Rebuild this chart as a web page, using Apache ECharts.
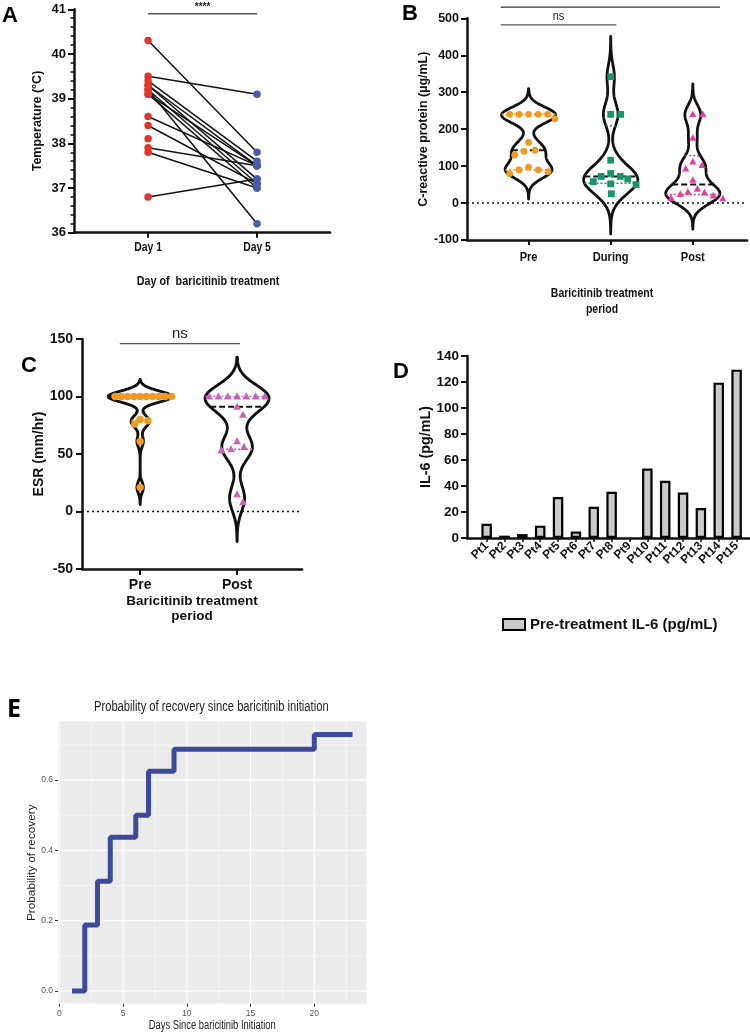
<!DOCTYPE html>
<html><head><meta charset="utf-8">
<script src="https://cdn.jsdelivr.net/npm/echarts@6/dist/echarts.min.js"></script>
<style>html,body{margin:0;padding:0;background:#fff}#c{width:750px;height:1035px}</style>
</head><body><div id="c"></div>
<script>
// ===== Panel A: temperature =====
const tempCategories = ['Day 1', 'Day 5'];
const tempDay1 = [40.3, 39.5, 39.4, 39.3, 39.3, 39.2, 39.2, 39.1, 39.1, 38.6, 38.4, 38.1, 37.9, 37.8, 36.8];
const tempDay5 = [37.8, 39.1, 37.6, 37.5, 37.2, 37.1, 36.2, 37.0, 37.5, 37.5, 37.1, null, 37.5, 37.0, 37.2];

// ===== Panel B: CRP =====
const crpGroups = ['Pre', 'During', 'Post'];
const crpPre = [240, 240, 240, 240, 240, 228, 164, 143, 140, 130, 97, 90, 90, 85, 80];
const crpDuring = [342, 240, 240, 116, 80, 72, 72, 65, 58, 52, 50, 25];
const crpPost = [240, 240, 176, 112, 102, 93, 62, 38, 30, 28, 24, 20, 13, 12];

// ===== Panel C: ESR =====
const esrGroups = ['Pre', 'Post'];
const esrPre = [100, 100, 100, 100, 100, 100, 100, 100, 100, 100, 80, 79, 76, 61, 21];
const esrPost = [100, 100, 100, 100, 100, 100, 100, 91, 84, 61, 56, 54, 53, 15, 8];

// ===== Panel D: IL-6 =====
const il6Patients = ['Pt1','Pt2','Pt3','Pt4','Pt5','Pt6','Pt7','Pt8','Pt9','Pt10','Pt11','Pt12','Pt13','Pt14','Pt15'];
const il6Values = [11, 1.8, 3, 9.5, 31.5, 5, 24, 35.5, null, 53.5, 44, 35, 23, 119.5, 129.5];

// ===== Panel E: Kaplan-Meier recovery =====
const kmDays = [1, 2, 3, 4, 6, 7, 9, 20, 23];
const kmProb = [0, 0.1875, 0.3125, 0.4375, 0.5, 0.625, 0.6875, 0.73, 0.73];
const kmYTicks = [0, 0.2, 0.4, 0.6];
const kmYMinor = [0.1, 0.3, 0.5, 0.7];
const kmXTicks = [0, 5, 10, 15, 20];
const kmXMinor = [2.5, 7.5, 12.5, 17.5, 22.5];

// ===== styles =====
const FONT = "'Liberation Sans', Arial, Helvetica, sans-serif";
const BLACK = '#111';
const RED = '#E3342B', BLUE = '#4B5AAA';
const ORANGE = '#F29A1F', GREEN = '#17956A', PINK_B = '#DD3F9E', PINK_C = '#C863B8';

function quantile(vals, p) {
  const s = [...vals].sort((a, b) => a - b), n = s.length;
  let pos = (n + 1) * p; if (pos < 1) pos = 1; if (pos > n) pos = n;
  const lo = Math.floor(pos), fr = pos - lo;
  return lo >= n ? s[n - 1] : s[lo - 1] + fr * (s[lo] - s[lo - 1]);
}
function kde(vals, h) {
  return y => vals.reduce((s, v) => { const z = (y - v) / h; return s + Math.exp(-0.5 * z * z); }, 0);
}
function shapeEl(kind, cx, cy, s, color) {
  if (kind === 'circle') return { type: 'circle', shape: { cx, cy, r: s }, style: { fill: color } };
  if (kind === 'rect') return { type: 'rect', shape: { x: cx - s, y: cy - s, width: 2 * s, height: 2 * s }, style: { fill: color } };
  return { type: 'polygon', shape: { points: [[cx, cy - s * 1.15], [cx + s * 1.05, cy + s * 0.8], [cx - s * 1.05, cy + s * 0.8]] }, style: { fill: color } };
}
function violinSeries(axisIdx, cfg) {
  return {
    type: 'custom', xAxisIndex: axisIdx, yAxisIndex: axisIdx, clip: false, z: 5,
    data: cfg.sets.map((_, i) => [i + 1]),
    renderItem(params, api) {
      const gi = params.dataIndex, xc = gi + 1;
      const vals = cfg.sets[gi], h = cfg.bw[gi], f = kde(vals, h);
      const lo = Math.min(...vals) - cfg.tail * h, hi = Math.max(...vals) + cfg.tail * h;
      const N = 200, prof = []; let maxD = 0;
      for (let k = 0; k <= N; k++) { const y = lo + (hi - lo) * k / N, d = f(y); prof.push([y, d]); if (d > maxD) maxD = d; }
      const hw = y => cfg.maxHalf * f(y) / maxD;
      const left = prof.map(([y, d]) => api.coord([xc - cfg.maxHalf * d / maxD, y]));
      const right = prof.slice().reverse().map(([y, d]) => api.coord([xc + cfg.maxHalf * d / maxD, y]));
      const ch = [];
      ch.push({ type: 'polygon', shape: { points: left.concat(right) }, style: { fill: 'none', stroke: BLACK, lineWidth: cfg.lw, lineJoin: 'round' } });
      [0.25, 0.75].forEach(p => {
        const y = quantile(vals, p), w = hw(y), a = api.coord([xc - w, y]), b = api.coord([xc + w, y]);
        ch.push({ type: 'line', shape: { x1: a[0], y1: a[1], x2: b[0], y2: b[1] }, style: { stroke: cfg.colors[gi], lineWidth: 1.6, lineDash: [2, 2] } });
      });
      const med = quantile(vals, 0.5), wm = hw(med), ma = api.coord([xc - wm, med]), mb = api.coord([xc + wm, med]);
      ch.push({ type: 'line', shape: { x1: ma[0], y1: ma[1], x2: mb[0], y2: mb[1] }, style: { stroke: BLACK, lineWidth: 2, lineDash: [6, 3] } });
      // beeswarm points
      const unitPx = api.size([1, 0])[0];
      const cx = api.coord([xc, 0])[0];
      const pts = vals.map(v => ({ v, y: api.coord([xc, v])[1] })).sort((a, b) => a.y - b.y);
      const placed = [];
      pts.forEach(p => {
        const k = pts.filter(q => Math.abs(q.y - p.y) < cfg.thr).length;
        const wpx = 2 * hw(p.v) * unitPx;
        const d = k > 1 ? Math.max(4, Math.min(cfg.dMax, 0.88 * wpx / (k - 1))) : cfg.dMax;
        const cands = [0];
        placed.forEach(q => { const dy = Math.abs(q.y - p.y); if (dy < d) { const dx = Math.sqrt(d * d - dy * dy); cands.push(q.x + dx, q.x - dx); } });
        cands.sort((a, b) => Math.abs(a) - Math.abs(b));
        const x = cands.find(c => placed.every(q => { const dy = q.y - p.y, dx = q.x - c; return dx * dx + dy * dy >= d * d - 0.05; }));
        placed.push({ x: x === undefined ? 0 : x, y: p.y });
      });
      placed.forEach(p => ch.push(shapeEl(cfg.shapes[gi], cx + p.x, p.y, cfg.ms, cfg.colors[gi])));
      return { type: 'group', children: ch };
    }
  };
}

const boldTxt = (size) => ({ fontFamily: FONT, fontWeight: 'bold', fontSize: size, color: BLACK });
function gpAxis(extra) {
  return Object.assign({
    axisLine: { onZero: false, lineStyle: { color: BLACK, width: 2.5 } },
    axisTick: { lineStyle: { color: BLACK, width: 2 }, length: 6 },
    splitLine: { show: false },
    nameLocation: 'middle'
  }, extra);
}

const option = {
  animation: false,
  backgroundColor: '#fff',
  grid: [
    { left: 74, top: 9.3, width: 256, height: 223.4 },
    { left: 467, top: 18.3, width: 280, height: 221.7 },
    { left: 82, top: 339, width: 220, height: 230 },
    { left: 467, top: 356, width: 283, height: 182 },
    { left: 58, top: 721.6, width: 308.6, height: 282.2, show: true, backgroundColor: '#EBEBEB', borderWidth: 0 }
  ],
  xAxis: [
    gpAxis({ gridIndex: 0, type: 'value', min: 0.32, max: 2.67,
      axisTick: { customValues: [1, 2], length: 5, lineStyle: { color: BLACK, width: 2 } },
      axisLabel: { show: false } }),
    gpAxis({ gridIndex: 1, type: 'value', min: 0.25, max: 3.66,
      axisTick: { customValues: [1, 2, 3], length: 5, lineStyle: { color: BLACK, width: 2 } },
      axisLabel: { show: false } }),
    gpAxis({ gridIndex: 2, type: 'value', min: 0.4, max: 2.67,
      axisTick: { customValues: [1, 2], length: 6, lineStyle: { color: BLACK, width: 2 } },
      axisLabel: Object.assign({ customValues: [1, 2], formatter: v => esrGroups[Math.round(v) - 1], margin: 9 }, boldTxt(14)),
      name: 'Baricitinib treatment\nperiod', nameGap: 25, nameTextStyle: Object.assign({ lineHeight: 15 }, boldTxt(13.5)) }),
    gpAxis({ gridIndex: 3, type: 'value', min: -0.1, max: 15.75,
      axisTick: { customValues: il6Patients.map((_, i) => i + 1), length: 4, lineStyle: { color: BLACK, width: 1.5 } },
      axisLabel: Object.assign({ customValues: il6Patients.map((_, i) => i + 1), formatter: v => il6Patients[Math.round(v) - 1],
        rotate: 45, margin: 6, showMinLabel: true, showMaxLabel: true, hideOverlap: false }, boldTxt(12)) }),
    { gridIndex: 4, type: 'value', min: -0.1, max: 24.1,
      axisLine: { show: false, onZero: false },
      axisTick: { customValues: kmXTicks, length: 3, lineStyle: { color: '#333', width: 1 } },
      axisLabel: { customValues: kmXTicks, fontFamily: FONT, fontSize: 8.5, color: '#555', margin: 5 },
      splitLine: { show: false } }
  ],
  yAxis: [
    gpAxis({ gridIndex: 0, type: 'value', min: 36, max: 41, interval: 1,
      minorTick: { show: true, splitNumber: 5, length: 3.5, lineStyle: { color: BLACK, width: 1.5 } },
      axisLabel: Object.assign({ margin: 8 }, boldTxt(13)),
      name: 'Temperature (°C)', nameGap: 30, nameTextStyle: boldTxt(12.5) }),
    gpAxis({ gridIndex: 1, type: 'value', min: -100, max: 500, interval: 100,
      axisLabel: Object.assign({ margin: 8 }, boldTxt(12.5)),
      name: 'C-reactive protein (µg/mL)', nameGap: 31, nameTextStyle: boldTxt(12.5) }),
    gpAxis({ gridIndex: 2, type: 'value', min: -50, max: 150, interval: 50,
      axisLabel: Object.assign({ margin: 9 }, boldTxt(14)),
      name: 'ESR (mm/hr)', nameGap: 30, nameTextStyle: boldTxt(14) }),
    gpAxis({ gridIndex: 3, type: 'value', min: 0, max: 140, interval: 20,
      axisLabel: Object.assign({ margin: 8 }, boldTxt(13.5)),
      name: 'IL-6 (pg/mL)', nameGap: 32, nameTextStyle: boldTxt(14.3) }),
    { gridIndex: 4, type: 'value', min: -0.0365, max: 0.7665,
      axisLine: { show: false, onZero: false },
      axisTick: { customValues: kmYTicks, length: 3, lineStyle: { color: '#333', width: 1 } },
      axisLabel: { customValues: kmYTicks, formatter: v => v.toFixed(1), fontFamily: FONT, fontSize: 8.5, color: '#555', margin: 5 },
      splitLine: { show: false },
      name: 'Probability of recovery', nameLocation: 'middle', nameGap: 16,
      nameTextStyle: { fontFamily: FONT, fontSize: 11.8, color: '#222' } }
  ],
  legend: {
    data: ['Pre-treatment IL-6 (pg/mL)'], left: 497, top: 612, icon: 'rect',
    itemWidth: 22, itemHeight: 11, itemGap: 8,
    itemStyle: { color: '#CACACA', borderColor: '#000', borderWidth: 2 },
    textStyle: boldTxt(15)
  },
  series: [
    // A: connecting lines
    { type: 'custom', name: 'pairs', xAxisIndex: 0, yAxisIndex: 0, z: 3,
      data: tempDay1.map((_, i) => [i]),
      renderItem(params, api) {
        const i = params.dataIndex; if (tempDay5[i] == null) return null;
        const a = api.coord([1, tempDay1[i]]), b = api.coord([2, tempDay5[i]]);
        return { type: 'line', shape: { x1: a[0], y1: a[1], x2: b[0], y2: b[1] }, style: { stroke: BLACK, lineWidth: 1.5 } };
      } },
    { type: 'scatter', name: 'Day 1', xAxisIndex: 0, yAxisIndex: 0, z: 4, symbolSize: 7.5,
      itemStyle: { color: RED, opacity: 1 }, data: tempDay1.map(v => [1, v]) },
    { type: 'scatter', name: 'Day 5', xAxisIndex: 0, yAxisIndex: 0, z: 4, symbolSize: 7.5,
      itemStyle: { color: BLUE, opacity: 1 }, data: tempDay5.filter(v => v != null).map(v => [2, v]) },
    // B zero line
    { type: 'line', name: 'zeroB', xAxisIndex: 1, yAxisIndex: 1, symbol: 'none', z: 2,
      lineStyle: { color: BLACK, width: 1.5, type: [2, 3] }, data: [[0.25, 0], [3.66, 0]] },
    violinSeries(1, { sets: [crpPre, crpDuring, crpPost], bw: [21, 33, 25], tail: 3.3, maxHalf: 0.33, lw: 2.8,
      colors: [ORANGE, GREEN, PINK_B], shapes: ['circle', 'rect', 'triangle'], ms: 3.4, dMax: 10, thr: 6 }),
    // C zero line
    { type: 'line', name: 'zeroC', xAxisIndex: 2, yAxisIndex: 2, symbol: 'none', z: 2,
      lineStyle: { color: BLACK, width: 1.5, type: [2, 3] }, data: [[0.4, 0], [2.67, 0]] },
    violinSeries(2, { sets: [esrPre, esrPost], bw: [4.8, 11], tail: 3.1, maxHalf: 0.33, lw: 2.9,
      colors: [ORANGE, PINK_C], shapes: ['circle', 'triangle'], ms: 3.7, dMax: 10, thr: 6 }),
    // D bars
    { type: 'bar', name: 'Pre-treatment IL-6 (pg/mL)', xAxisIndex: 3, yAxisIndex: 3, barWidth: 10.5,
      itemStyle: { color: '#CACACA', borderColor: '#000', borderWidth: 2.2 },
      data: il6Values.map((v, i) => [i + 1, v]).filter(d => d[1] != null) },
    // E grid lines
    { type: 'custom', name: 'gridE', xAxisIndex: 4, yAxisIndex: 4, z: 1, silent: true,
      data: kmYTicks.map(v => ['y', v, 1.2]).concat(kmYMinor.map(v => ['y', v, 0.5]),
            kmXTicks.map(v => ['x', v, 1.2]), kmXMinor.map(v => ['x', v, 0.5])),
      renderItem(params, api) {
        const cs = params.coordSys;
        const d = option.series[8].data[params.dataIndex];
        if (d[0] === 'y') { const y = api.coord([0, d[1]])[1];
          return { type: 'line', shape: { x1: cs.x, y1: y, x2: cs.x + cs.width, y2: y }, style: { stroke: '#fff', lineWidth: d[2] } }; }
        const x = api.coord([d[1], 0])[0];
        return { type: 'line', shape: { x1: x, y1: cs.y, x2: x, y2: cs.y + cs.height }, style: { stroke: '#fff', lineWidth: d[2] } };
      } },
    // E step line
    { type: 'line', name: 'KM', xAxisIndex: 4, yAxisIndex: 4, step: 'end', symbol: 'none', z: 4,
      lineStyle: { color: '#3D4A9C', width: 5 }, data: kmDays.map((d, i) => [d, kmProb[i]]) }
  ]
};

const chart = echarts.init(document.getElementById('c'), null, { renderer: 'canvas' });
chart.setOption(option);

// annotations and condensed labels placed via data coordinates
const P = (g, pt) => chart.convertToPixel({ gridIndex: g }, pt);
function sigBar(g, x1, x2, y, txt, txtStyle, color) {
  const a = P(g, [x1, y]), b = P(g, [x2, y]);
  return [
    { type: 'line', shape: { x1: a[0], y1: a[1], x2: b[0], y2: b[1] }, style: { stroke: color, lineWidth: 1.3 } },
    { type: 'text', x: (a[0] + b[0]) / 2, y: a[1] - 2, scaleX: txtStyle.sx || 1, style: Object.assign({ text: txt, align: 'center', verticalAlign: 'bottom', fill: '#222' }, txtStyle) }
  ];
}
// condensed text (the source figure is horizontally compressed)
function cText(text, x, y, size, sx, bold, color, lh) {
  return { type: 'text', x, y, scaleX: sx, style: { text, align: 'center', verticalAlign: 'middle', fontFamily: FONT,
    fontWeight: bold ? 'bold' : 'normal', fontSize: size, fill: color || BLACK, lineHeight: lh || size * 1.2 } };
}
const letter = (t, x, y, size, fam) => ({ type: 'text', x, y, style: { text: t, fontFamily: fam || FONT, fontWeight: 'bold', fontSize: size, fill: '#000' } });

const gA0 = P(0, [1, 36]), gA1 = P(0, [2, 36]);
const gB = [1, 2, 3].map(v => P(1, [v, -100]));
const midA = P(0, [(0.32 + 2.67) / 2, 36]);
const midB = P(1, [(0.25 + 3.66) / 2, -100]);
const midE = P(4, [12, -0.0365]);

const graphics = [].concat(
  sigBar(0, 1, 2, 40.9, '****', { fontFamily: FONT, fontWeight: 'bold', fontSize: 10 }, '#555'),
  sigBar(1, 0.66, 2.07, 482, 'ns', { fontFamily: FONT, fontSize: 13, sx: 0.85 }, '#555'),
  sigBar(1, 0.66, 3.33, 530, '**', { fontFamily: FONT, fontWeight: 'bold', fontSize: 10 }, '#333'),
  sigBar(2, 0.79, 2.03, 146, 'ns', { fontFamily: FONT, fontSize: 15 }, '#555'),
  [
    cText(tempCategories[0], gA0[0], gA0[1] + 15, 13, 0.8, true),
    cText(tempCategories[1], gA1[0], gA1[1] + 15, 13, 0.8, true),
    cText('Day of  baricitinib treatment', midA[0] + 6, midA[1] + 49, 13, 0.83, true),
    ...gB.map((p, i) => cText(crpGroups[i], p[0], p[1] + 17, 13.5, 0.82, true)),
    cText('Baricitinib treatment\nperiod', midB[0] - 5, midB[1] + 61, 13, 0.81, true, BLACK, 16),
    cText('Probability of recovery since baricitinib initiation', midE[0] - 1, 707, 14, 0.8, false, '#222'),
    cText('Days Since baricitinib Initiation', midE[0], midE[1] + 22, 12, 0.78, false, '#222'),
    letter('A', 2, 5, 22), letter('B', 402, 3, 22), letter('C', 21, 355, 22), letter('D', 393, 361, 22),
    letter('E', 7, 697, 25, "'Noto Sans', " + FONT)
  ]
);
chart.setOption({ graphic: graphics });
</script>
</body></html>
